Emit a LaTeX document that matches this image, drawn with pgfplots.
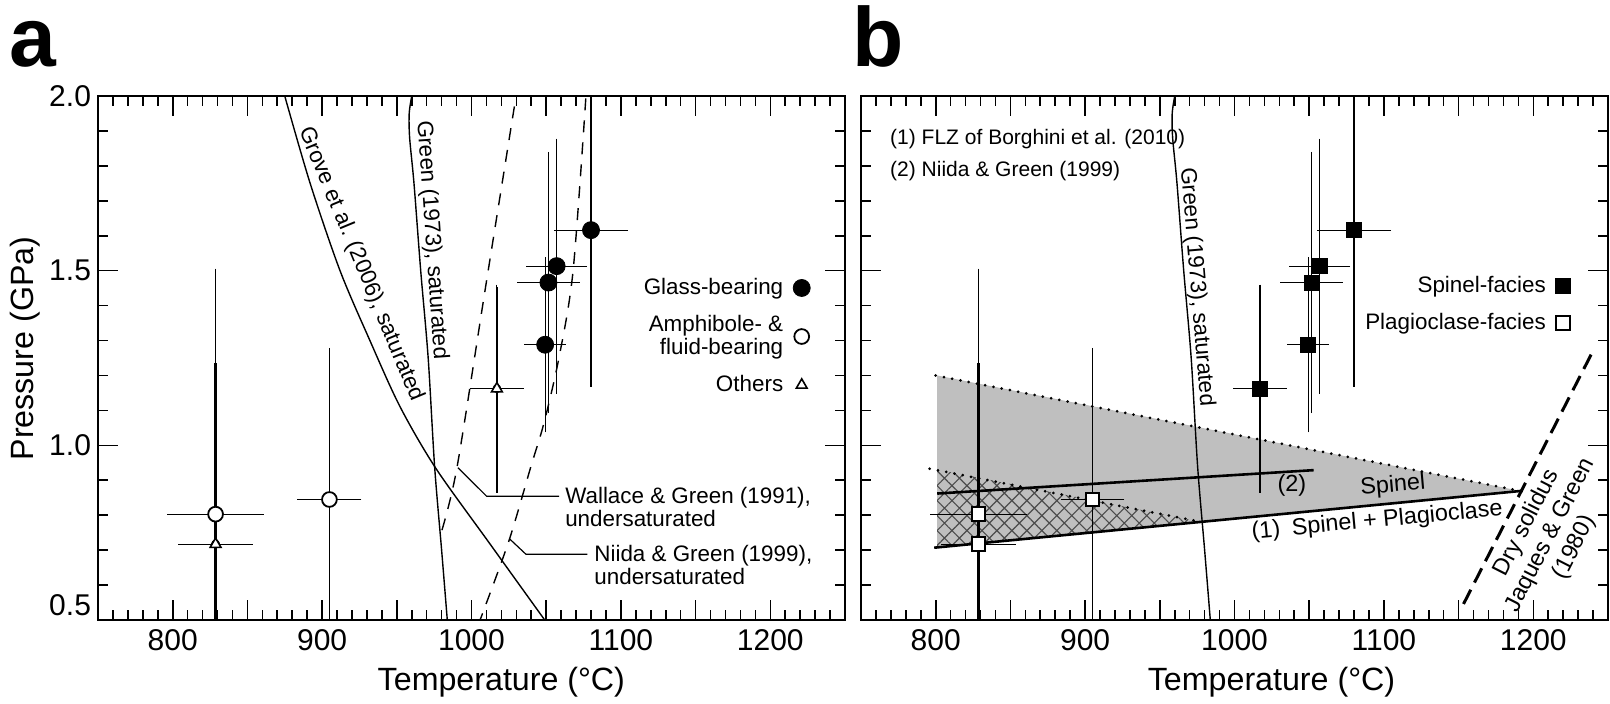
\documentclass[border=0pt]{standalone}
\usepackage{fontspec}
\setmainfont{Liberation Sans}
\usepackage{pgfplots}
\usepackage{pgfplotstable}
\pgfplotsset{compat=1.18}
\usetikzlibrary{patterns.meta}

\newcommand{\fsA}{\fontsize{11.2}{11.3}\selectfont}
\newcommand{\fsB}{\fontsize{11.7}{13.4}\selectfont}
\newcommand{\fsH}{\fontsize{10.5}{11}\selectfont}

% T P dT dP
\pgfplotstableread{
T P dT dP
1080 1.616 23 0.44
1057 1.513 18.5 0.357
1051.5 1.466 19 0.366
1049.3 1.288 12 0.243
}\glass
\pgfplotstableread{
T P dT dP
1017 1.162 16 0.29
}\othA
\pgfplotstableread{
T P dT dP
828.7 0.717 23 0.52
}\othB
\pgfplotstableread{
T P dT dP
828.7 0.803 30.5 0.695
904.9 0.845 19.5 0.426
}\amph
\pgfplotstableread{
T P
875 2.0
892 1.75
912 1.5
932 1.3
952 1.112
976 0.935
1012 0.72
1049 0.5
}\grove
\pgfplotstableread{
T P
960 2.0
958.3 1.95
958.6 1.88
961.5 1.75
966 1.5
971 1.25
975.3 0.94
980 0.7
983.8 0.5
}\green
\pgfplotstableread{
T P
1028.7 1.97
1009.3 1.45
990 0.93
979 0.74
}\wallace
\pgfplotstableread{
T P
1076.5 1.993
1068 1.5
1058.7 1.254
1048.5 1.064
1039.8 0.94
1025.3 0.73
1007.5 0.52
1005.5 0.5
}\niida

\pgfplotsset{
  panel/.style={
    scale only axis, width=373.5pt, height=262pt,
    xmin=750, xmax=1250, ymin=0.5, ymax=2.0,
    xtick={750,800,...,1250},
    xticklabels={,800,,900,,1000,,1100,,1200,},
    minor x tick num=4,
    ytick={0.5,1.0,1.5,2.0},
    minor ytick={0.6,0.7,0.8,0.9,1.1,1.2,1.3,1.4,1.6,1.7,1.8,1.9},
    tick align=inside,
    major tick length=10pt, minor tick length=5pt,
    every tick/.style={black, line width=0.8pt},
    axis line style={line width=1.3pt},
    tick label style={font=\fontsize{15}{15}\selectfont},
    /pgf/number format/assume math mode=true,
    xticklabel style={anchor=base, yshift=-15.4pt},
    clip mode=individual,
    label style={font=\fontsize{16.1}{16.1}\selectfont},
    legend plot pos=right, legend cell align=right,
  },
  ebars/.style={only marks, mark=none, forget plot,
    error bars/.cd, x dir=both, x explicit, y dir=both, y explicit,
    error bar style={draw=black, line width=0.6pt},
    error mark options={draw=black, line width=0.6pt, mark size=1.4pt}},
}

\begin{document}
\begin{tikzpicture}
\path[use as bounding box] (0,0) rectangle (805pt,351.5pt);

% ---------------- panel a ----------------
\begin{axis}[panel, at={(49pt,41.5pt)}, anchor=south west,
  yticklabels={{\raisebox{15pt}{0.5}},1.0,1.5,2.0},
  xlabel={Temperature (°C)},
  xlabel style={at={(axis description cs:0.54,-0.1336)}, anchor=base},
  ylabel={Pressure (GPa)},
  ylabel style={at={(axis description cs:-0.0865,0.518)}, anchor=base},
  legend style={draw=none, fill=none, at={(axis description cs:0.962,0.668)}, anchor=north east,
    row sep=5pt, column sep=3pt, font=\fsA, cells={align=right}},
]
\addlegendimage{only marks, mark=*, mark size=4.25pt, black}
\addlegendentry{Glass-bearing}
\addlegendimage{only marks, mark=*, mark size=3.7pt, mark options={fill=white, draw=black, line width=0.9pt}}
\addlegendentry{Amphibole- \&\\fluid-bearing}
\addlegendimage{only marks, mark=triangle*, mark size=3.1pt, mark options={fill=white, draw=black, line width=0.8pt}}
\addlegendentry{Others}

\addplot[black, line width=0.7pt, smooth, forget plot] table[x=T,y=P] {\grove};
\addplot[black, line width=0.7pt, smooth, forget plot] table[x=T,y=P] {\green};
\addplot[black, line width=0.7pt, smooth, dash pattern=on 6pt off 5pt, forget plot] table[x=T,y=P] {\wallace};
\addplot[black, line width=0.7pt, smooth, dash pattern=on 6pt off 5pt, forget plot] table[x=T,y=P] {\niida};

\addplot[only marks, mark=none, forget plot, error bars/.cd, y dir=both, y explicit,
  error bar style={draw=black, line width=1.4pt}, error mark options={draw=black, mark size=1.4pt}]
  table[x=T,y=P,y error=dP] {\othB};
\addplot[ebars] table[x=T,y=P,x error=dT,y error=dP] {\amph};
\addplot[ebars] table[x=T,y=P,x error=dT,y error=dP] {\othA};
\addplot[ebars] table[x=T,y=P,x error=dT,y error=dP] {\othB};
\addplot[ebars] table[x=T,y=P,x error=dT,y error=dP] {\glass};

\addplot[only marks, mark=*, mark size=3.7pt, mark options={fill=white, draw=black, line width=0.9pt}, forget plot] table[x=T,y=P] {\amph};
\addplot[only marks, mark=triangle*, mark size=3.1pt, mark options={fill=white, draw=black, line width=0.8pt}, forget plot] table[x=T,y=P] {\othA};
\addplot[only marks, mark=triangle*, mark size=3.1pt, mark options={fill=white, draw=black, line width=0.8pt}, forget plot] table[x=T,y=P] {\othB};
\addplot[only marks, mark=*, mark size=4.25pt, black, forget plot] table[x=T,y=P] {\glass};

\node[rotate=-67.5, font=\fsA] at (axis cs:926,1.519) {Grove et al. (2006), saturated};
\node[rotate=-86, font=\fsA] at (axis cs:973.3,1.588) {Green (1973), saturated};
\draw[line width=0.6pt] (axis cs:990.9,0.936) -- (axis cs:1010.2,0.854) -- (axis cs:1058.7,0.854);
\node[anchor=west, align=left, inner sep=0pt, font=\fsA] at (axis cs:1062.5,0.8234) {Wallace \& Green (1991),\\undersaturated};
\draw[line width=0.6pt] (axis cs:1025.3,0.733) -- (axis cs:1036.5,0.688) -- (axis cs:1077.5,0.688);
\node[anchor=west, align=left, inner sep=0pt, font=\fsA] at (axis cs:1082,0.657) {Niida \& Green (1999),\\undersaturated};
\end{axis}

% ---------------- panel b ----------------
\begin{axis}[panel, at={(430.5pt,41.5pt)}, anchor=south west,
  yticklabels={},
  xlabel={Temperature (°C)},
  xlabel style={at={(axis description cs:0.5495,-0.1336)}, anchor=base},
  legend style={draw=none, fill=none, at={(axis description cs:0.958,0.672)}, anchor=north east,
    row sep=5pt, column sep=3pt, font=\fsA, cells={align=right}},
]
\addlegendimage{only marks, mark=square*, mark size=3.6pt, black}
\addlegendentry{Spinel-facies}
\addlegendimage{only marks, mark=square*, mark size=3.4pt, mark options={fill=white, draw=black, line width=0.9pt}}
\addlegendentry{Plagioclase-facies}

\addplot[fill=black!25, draw=none, forget plot] coordinates {(801,1.2) (1192,0.869) (801,0.707)} -- cycle;
\addplot[pattern={Hatch[angle=45,distance=5.3pt,line width=0.55pt]}, pattern color=black!70, draw=none, forget plot]
  coordinates {(801,0.931) (978,0.7806) (801,0.707)} -- cycle;
\addplot[black, line width=1.5pt, dash pattern=on 0pt off 4.2pt, line cap=round, forget plot] coordinates {(800,1.2) (1192,0.869)};
\addplot[black, line width=1.5pt, dash pattern=on 0pt off 4.2pt, line cap=round, forget plot] coordinates {(796,0.933) (978,0.7806)};
\addplot[black, line width=1.3pt, forget plot] coordinates {(799,0.707) (1193,0.870)};
\addplot[black, line width=1.3pt, forget plot] coordinates {(801,0.862) (1053,0.929)};
\addplot[black, line width=0.7pt, smooth, forget plot] table[x=T,y=P] {\green};
\addplot[black, line width=1.5pt, dash pattern=on 8pt off 4pt, forget plot] coordinates {(1153.3,0.546) (1241,1.279)};

\addplot[only marks, mark=none, forget plot, error bars/.cd, y dir=both, y explicit,
  error bar style={draw=black, line width=1.4pt}, error mark options={draw=black, mark size=1.4pt}]
  table[x=T,y=P,y error=dP] {\othB};
\addplot[ebars] table[x=T,y=P,x error=dT,y error=dP] {\amph};
\addplot[ebars] table[x=T,y=P,x error=dT,y error=dP] {\othA};
\addplot[ebars] table[x=T,y=P,x error=dT,y error=dP] {\othB};
\addplot[ebars] table[x=T,y=P,x error=dT,y error=dP] {\glass};

\addplot[only marks, mark=square*, mark size=3.4pt, mark options={fill=white, draw=black, line width=0.9pt}, forget plot] table[x=T,y=P] {\amph};
\addplot[only marks, mark=square*, mark size=3.4pt, mark options={fill=white, draw=black, line width=0.9pt}, forget plot] table[x=T,y=P] {\othB};
\addplot[only marks, mark=square*, mark size=3.75pt, black, forget plot] table[x=T,y=P] {\othA};
\addplot[only marks, mark=square*, mark size=3.75pt, black, forget plot] table[x=T,y=P] {\glass};

\node[anchor=base west, inner sep=0pt, font=\fsH] at (axis cs:769.3,1.86) {(1) FLZ of Borghini et al. (2010)};
\node[anchor=base west, inner sep=0pt, font=\fsH] at (axis cs:769.3,1.769) {(2) Niida \& Green (1999)};
\node[rotate=-85.3, font=\fsA] at (axis cs:974.6,1.453) {Green (1973), saturated};
\node[font=\fsB] at (axis cs:1038.4,0.884) {(2)};
\node[rotate=5, font=\fsB] at (axis cs:1106,0.884) {Spinel};
\node[rotate=5.3, font=\fsB] at (axis cs:1095.5,0.783) {(1)\hspace{0.5em}Spinel + Plagioclase};
\node[rotate=63, align=center, font=\fsB] at (axis cs:1211.6,0.743) {Dry solidus\\Jaques \& Green\\(1980)};
\end{axis}

\node[anchor=base west, inner sep=0pt, font=\fontsize{42}{42}\selectfont\bfseries] at (4.7pt,318pt) {a};
\node[anchor=base west, inner sep=0pt, font=\fontsize{42}{42}\selectfont\bfseries] at (426pt,318pt) {b};
\end{tikzpicture}
\end{document}
